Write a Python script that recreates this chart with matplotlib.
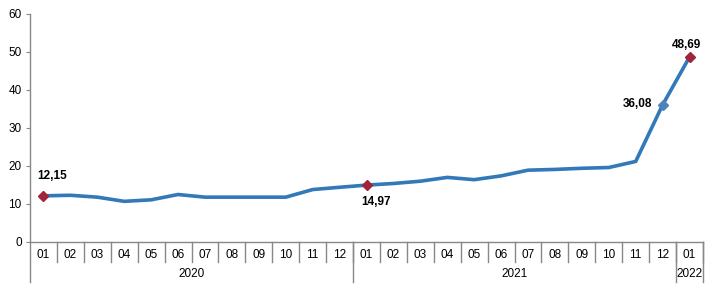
import matplotlib
matplotlib.use("Agg")
import matplotlib.pyplot as plt
import matplotlib.transforms as mtransforms

plt.rcParams['font.family'] = ['Liberation Sans', 'DejaVu Sans']

months = ["01", "02", "03", "04", "05", "06", "07", "08", "09", "10", "11", "12",
          "01", "02", "03", "04", "05", "06", "07", "08", "09", "10", "11", "12",
          "01"]
years = ["2020", "2021", "2022"]
year_counts = [12, 12, 1]
values = [12.15, 12.3, 11.8, 10.7, 11.1, 12.5, 11.8, 11.8, 11.8, 11.8, 13.8, 14.4,
          14.97, 15.4, 16.0, 17.0, 16.4, 17.4, 18.9, 19.1, 19.4, 19.6, 21.2, 36.08,
          48.69]
labels = {0: "12,15", 12: "14,97", 23: "36,08", 24: "48,69"}

W, H = 718, 288
fig = plt.figure(figsize=(W / 100, H / 100), dpi=100)
ax = fig.add_axes([30 / W, (H - 242) / H, (703 - 30) / W, (242 - 14) / H])

n = len(values)
x = list(range(n))
line_color = "#3179B8"
ax.plot(x, values, color=line_color, lw=2.6, solid_joinstyle="round", zorder=2)

red_idx = [0, 12, 24]
ax.plot([x[i] for i in red_idx], [values[i] for i in red_idx], ls="none",
        marker="D", ms=5.5, color="#A0253A", zorder=3)
ax.plot([x[23]], [values[23]], ls="none", marker="D", ms=5.5, color="#4F81BD", zorder=3)

# offsets in pixels
offsets = {0: (9, 20, "center"), 12: (10, -17, "center"), 23: (-10, 1, "right"), 24: (-3, 12, "center")}
for i, txt in labels.items():
    dx, dy, ha = offsets[i]
    ax.annotate(txt, (x[i], values[i]), xytext=(dx, dy), textcoords="offset pixels",
                ha=ha, va="center", fontsize=8.5, fontweight="bold", color="black")

ax.set_xlim(-0.5, n - 0.5)
ax.set_ylim(0, 60)
ax.set_yticks(range(0, 61, 10))
ax.tick_params(axis="y", labelsize=8.5, length=3, color="#888888", pad=3)
ax.set_xticks([])
for s in ["top", "right"]:
    ax.spines[s].set_visible(False)
for s in ["left", "bottom"]:
    ax.spines[s].set_color("#888888")
    ax.spines[s].set_linewidth(1)

trans = mtransforms.blended_transform_factory(ax.transData, ax.transAxes)
px = 1 / (242 - 14)
gray = "#888888"
# month separators
for k in range(1, n + 1):
    ax.plot([k - 0.5, k - 0.5], [0, -20 * px], transform=trans, color=gray, lw=1, clip_on=False)
# month labels
for i, m in enumerate(months):
    ax.text(i, -13.5 * px, m, transform=trans, ha="center", va="center", fontsize=8.5)
# year separators and labels
start = 0
bounds = [0]
for c in year_counts:
    start += c
    bounds.append(start)
for b in bounds:
    ax.plot([b - 0.5, b - 0.5], [0, -40 * px], transform=trans, color=gray, lw=1, clip_on=False)
for j, yr in enumerate(years):
    mid = (bounds[j] + bounds[j + 1] - 1) / 2
    ax.text(mid, -32 * px, yr, transform=trans, ha="center", va="center", fontsize=8.5)

fig.savefig("out.png", dpi=100)
